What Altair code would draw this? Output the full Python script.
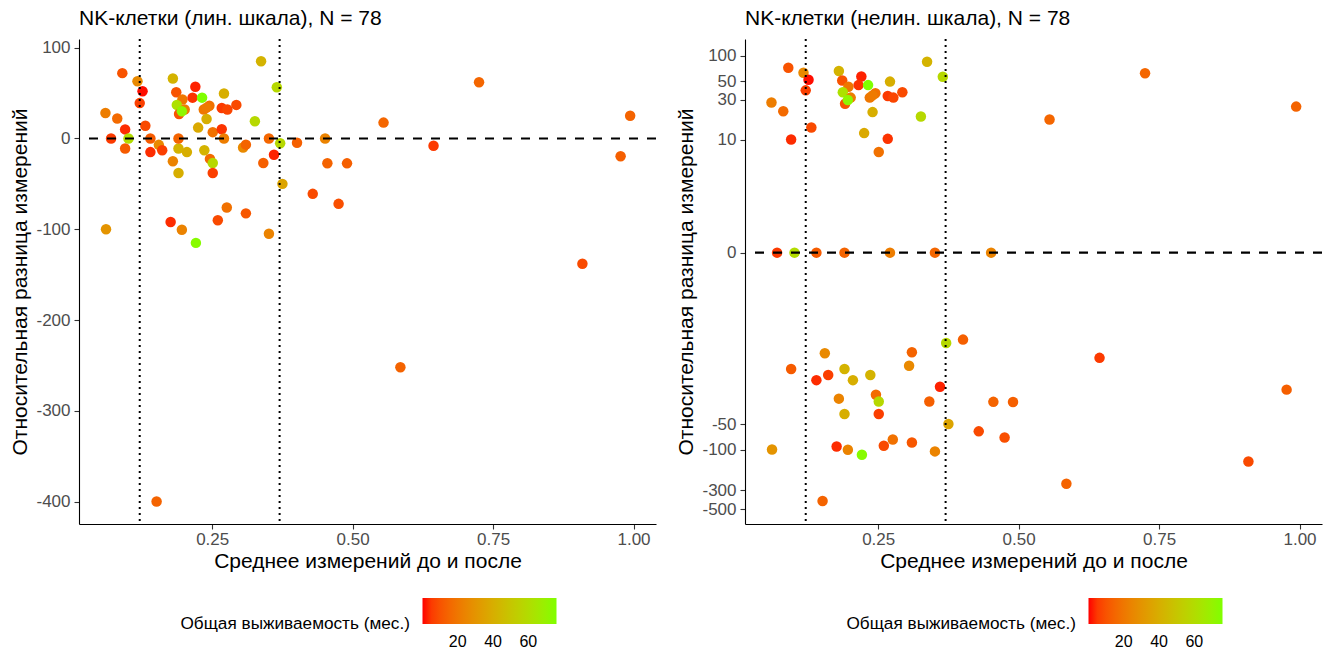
import altair as alt
import pandas as pd

# Mean of the two measurements (x) and relative difference, % (y)
mean_vals = [
    0.061, 0.060, 0.081, 0.090, 0.095, 0.070, 0.101, 0.095, 0.117, 0.126,
    0.121, 0.131, 0.140, 0.155, 0.140, 0.161, 0.180, 0.190, 0.190, 0.205,
    0.190, 0.180, 0.186, 0.197, 0.187, 0.191, 0.201, 0.196, 0.220, 0.215,
    0.232, 0.235, 0.245, 0.240, 0.225, 0.251, 0.236, 0.246, 0.251, 0.251,
    0.271, 0.267, 0.277, 0.293, 0.267, 0.271, 0.305, 0.310, 0.337, 0.326,
    0.351, 0.341, 0.360, 0.365, 0.371, 0.375, 0.429, 0.475, 0.401, 0.451,
    0.455, 0.490, 0.176, 0.196, 0.221, 0.260, 0.276, 0.310, 0.351, 0.725,
    0.555, 0.644, 0.994, 0.977, 0.909, 0.151, 0.585, 0.240,
]
rel_diff = [
    -100, 28, 22, 72, 10, 0, 0, -11, 63, 52,
    39, 14, 0, -7, -15, -13, -25, -38, -11, -15,
    0, 66, 51, 43, 37, 27, 32, 30, 57, 45,
    45, 32, 36, 21.5, 12, 7, -13, -22.5, -27, -38,
    49.5, 33.5, 32, 37, 10.2, 0, -10, -6.8, 85, 19,
    0, -27, -18, 56.4, -5.2, -50, -61, -72, -4.7, 0,
    -27.3, -27.4, -92, -100.5, -115, -90, -76, -82.5, -105, 62,
    17.5, -8, 25, -19.5, -138, -400, -252, 34,
]
# Overall survival, months (colour)
survival = [
    30, 22, 16, 10, 3, 5, 60, 12, 26, 0.5,
    6, 8, 12, 26, 3, 6, 24, 40, 42, 40,
    14, 42, 10, 20, 62, 10, 22, 72, 2, 4,
    76, 20, 18, 40, 38, 18, 42, 16, 58, 6,
    40, 5, 7, 8, 4, 22, 26, 14, 42, 58,
    15, 13, 2, 58, 58, 36, 8, 9, 13, 24,
    14, 13, 3, 24, 74, 8, 18, 11, 24, 15,
    15, 5, 14, 13, 8, 14, 14, 21,
]
# Vertical reference cut-offs on the mean axis
cut_points = [0.121, 0.37]

lin_ticks = [-400, -300, -200, -100, 0, 100]
log_ticks = [-500, -300, -100, -50, 0, 10, 30, 50, 100]
x_ticks = [0.25, 0.50, 0.75, 1.00]
os_ticks = [20, 40, 60]

points = pd.DataFrame({"m": mean_vals, "d": rel_diff, "os": survival})
zero_line = pd.DataFrame({"d": [0]})
cut_lines = pd.DataFrame({"m": cut_points})

FONT = "Liberation Sans"
W, H = 577, 485
PLAIN_MINUS = "replace(datum.label, '\u2212', '-')"

x_scale = alt.Scale(domain=[0.0129, 1.040], nice=False, zero=False)
x_axis = alt.Axis(values=x_ticks, format=".2f", title="Среднее измерений до и после",
                  titlePadding=3, labelPadding=2)


def panel(title, y_scale, y_ticks):
    y_axis = alt.Axis(values=y_ticks, title="Относительная разница измерений",
                      titlePadding=5, labelPadding=4, labelExpr=PLAIN_MINUS)
    color = alt.Color(
        "os:Q",
        title="Общая выживаемость (мес.)",
        scale=alt.Scale(domain=[0, 76], range=["#FF0000", "#7FFF00"], interpolate="lab"),
        legend=alt.Legend(
            orient="none", legendX=101.5, legendY=559, direction="horizontal",
            values=os_ticks, gradientLength=134, gradientThickness=26,
            gradientStrokeWidth=0, titleOrient="left", titleAnchor="end",
            titleBaseline="middle", titlePadding=12, titleFontSize=17.2,
            titleFontWeight="normal", titleColor="black", titleLimit=400,
            labelFontSize=16, labelColor="black", labelOffset=10, padding=0,
        ),
    )
    pts = alt.Chart(points).mark_circle(size=110, opacity=1).encode(
        x=alt.X("m:Q", scale=x_scale, axis=x_axis),
        y=alt.Y("d:Q", scale=y_scale, axis=y_axis),
        color=color,
    )
    hz = alt.Chart(zero_line).mark_rule(color="black", strokeDash=[9, 9], strokeWidth=2.2).encode(
        y=alt.Y("d:Q", scale=y_scale, axis=y_axis)
    )
    vt = alt.Chart(cut_lines).mark_rule(color="black", strokeDash=[2, 4], strokeWidth=2).encode(
        x=alt.X("m:Q", scale=x_scale, axis=x_axis)
    )
    return alt.layer(pts, hz, vt).properties(
        width=W, height=H,
        title=alt.TitleParams(title, anchor="start", frame="group", fontSize=21,
                              fontWeight="normal", color="black", offset=9),
    )


left = panel("NK-клетки (лин. шкала), N = 78",
             alt.Scale(domain=[-424.7, 109.6], nice=False, zero=False), lin_ticks)
right = panel("NK-клетки (нелин. шкала), N = 78",
              alt.Scale(type="symlog", constant=0.5, domain=[-745, 157], nice=False, zero=False),
              log_ticks)

chart = (
    alt.hconcat(left, right, spacing=17)
    .resolve_scale(color="independent")
    .resolve_legend(color="independent")
    .properties(padding={"left": 9, "top": 8, "right": 0, "bottom": 0})
    .configure(font=FONT)
    .configure_view(stroke=None)
    .configure_axis(
        grid=False, domainColor="black", domainWidth=1.1, tickColor="#333333",
        tickWidth=1.1, tickSize=5, labelColor="#4D4D4D", labelFontSize=17,
        titleFontSize=21, titleFontWeight="normal", titleColor="black",
    )
)

chart.save("out.html", embed_options={"renderer": "svg", "actions": False})
